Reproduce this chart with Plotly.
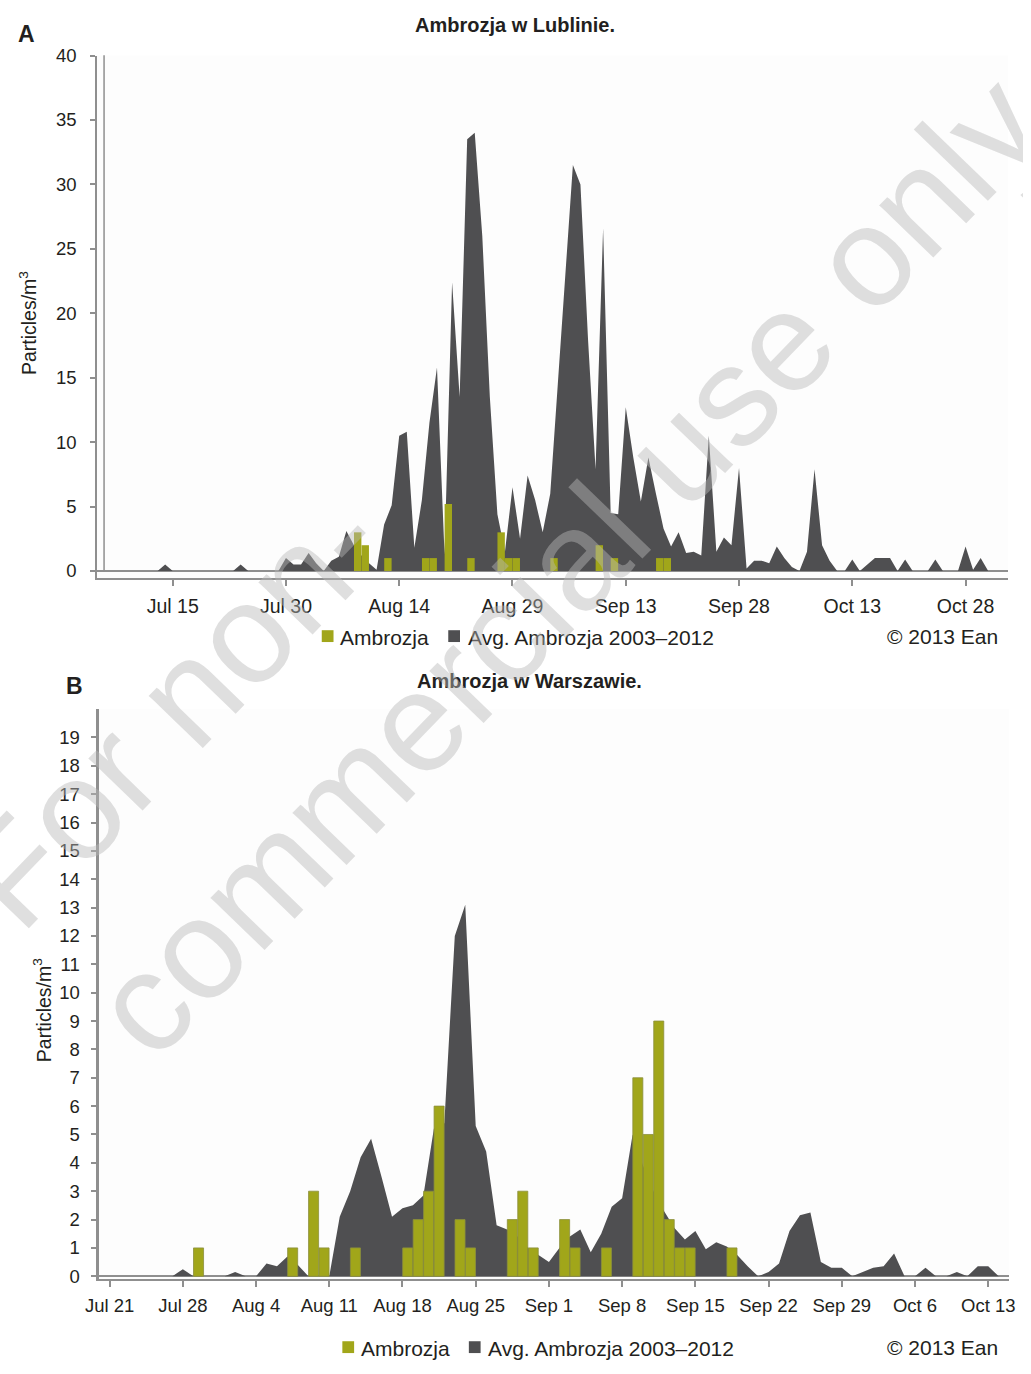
import plotly.graph_objects as go
import pandas as pd

FONT = "Liberation Sans, Arial, Helvetica, sans-serif"
GREEN = "#a1a61a"
DARK = "#4f4f51"
AXIS = "#8f8f8f"
TEXT = "#231f20"
W, H = 1031, 1374

# ---------------- Panel A: Lublin ----------------
a_avg_start = "2013-07-05"
a_avg_values = [
    0, 0, 0, 0, 0, 0, 0, 0, 0,
    0.5,
    0, 0, 0, 0, 0, 0, 0, 0, 0,
    0.5,
    0, 0, 0, 0, 0,
    1.0, 0.5, 0.5, 1.4, 0.6, 0, 0.8, 1.1, 3.1, 2.0,
    1.2, 0.6, 0.1, 3.6, 5.1, 10.5, 10.8, 1.8, 5.5, 11.5,
    15.8, 1.3, 22.4, 13.5, 33.5, 34.0, 26.0, 13.5, 4.4, 1.5,
    6.5, 2.5, 7.4, 5.5, 3.0, 6.0, 14.5, 23.0, 31.5, 30.0,
    18.0, 7.9, 26.6, 4.5, 4.4, 12.7, 8.8, 5.4, 8.8, 6.0,
    3.3, 1.9, 3.0, 1.4, 1.5, 1.2, 10.5, 1.5, 2.6, 2.0,
    8.0, 0.2, 0.8, 0.8, 0.6, 1.9, 1.0, 0.3, 0, 1.5,
    7.9, 2.0, 0.8, 0, 0, 0.9, 0, 0.5, 1.0, 1.0,
    1.0, 0, 0.9, 0, 0, 0, 0.9, 0, 0, 0,
    1.9, 0.1, 1.0, 0, 0, 0,
]
a_bar_dates = ["2013-08-08", "2013-08-09", "2013-08-12", "2013-08-17", "2013-08-18",
               "2013-08-20", "2013-08-23", "2013-08-27", "2013-08-28", "2013-08-29",
               "2013-09-03", "2013-09-09", "2013-09-11", "2013-09-17", "2013-09-18"]
a_bar_values = [3, 2, 1, 1, 1, 5.2, 1, 3, 1, 1, 1, 2, 1, 1, 1]
a_tick_dates = ["2013-07-15", "2013-07-30", "2013-08-14", "2013-08-29",
                "2013-09-13", "2013-09-28", "2013-10-13", "2013-10-28"]
a_tick_labels = ["Jul 15", "Jul 30", "Aug 14", "Aug 29", "Sep 13", "Sep 28", "Oct 13", "Oct 28"]
a_y_ticks = [0, 5, 10, 15, 20, 25, 30, 35, 40]

# ---------------- Panel B: Warszawa ----------------
b_avg_start = "2013-07-20"
b_avg_values = [
    0, 0, 0, 0, 0, 0, 0,
    0, 0.25, 0, 0, 0, 0, 0.15, 0, 0, 0.45,
    0.35, 0.7, 0.4, 0, 0, 0, 2.1, 3.0, 4.2, 4.85,
    3.5, 2.1, 2.4, 2.5, 2.85, 5.2, 5.4, 12.0, 13.1, 5.3,
    4.4, 1.8, 1.65, 1.4, 1.0, 0.75, 0.5, 1.0, 1.4, 1.65,
    0.85, 1.5, 2.45, 2.75, 5.0, 3.9, 3.0, 2.3, 1.7, 1.3,
    1.6, 0.95, 1.2, 1.05, 0.75, 0.35, 0, 0.15, 0.45, 1.6,
    2.15, 2.25, 0.5, 0.3, 0.3, 0, 0.15, 0.3, 0.35, 0.8,
    0, 0, 0.3, 0, 0, 0.15, 0, 0.35, 0.35, 0,
]
b_bar_dates = ["2013-07-29", "2013-08-07", "2013-08-09", "2013-08-10", "2013-08-13",
               "2013-08-18", "2013-08-19", "2013-08-20", "2013-08-21", "2013-08-23",
               "2013-08-24", "2013-08-28", "2013-08-29", "2013-08-30", "2013-09-02",
               "2013-09-03", "2013-09-06", "2013-09-09", "2013-09-10", "2013-09-11",
               "2013-09-12", "2013-09-13", "2013-09-14", "2013-09-18"]
b_bar_values = [1, 1, 3, 1, 1, 1, 2, 3, 6, 2, 1, 2, 3, 1, 2, 1, 1, 7, 5, 9, 2, 1, 1, 1]
b_tick_dates = ["2013-07-21", "2013-07-28", "2013-08-04", "2013-08-11", "2013-08-18",
                "2013-08-25", "2013-09-01", "2013-09-08", "2013-09-15", "2013-09-22",
                "2013-09-29", "2013-10-06", "2013-10-13"]
b_tick_labels = ["Jul 21", "Jul 28", "Aug 4", "Aug 11", "Aug 18", "Aug 25", "Sep 1",
                 "Sep 8", "Sep 15", "Sep 22", "Sep 29", "Oct 6", "Oct 13"]
b_y_ticks = list(range(0, 20))

series_names = ["Ambrozja", "Avg. Ambrozja 2003–2012"]
titles = ["Ambrozja w Lublinie.", "Ambrozja w Warszawie."]
y_title = "Particles/m<sup>3</sup>"
credit = "© 2013 Ean"
watermark = "For non-<br>commercial use only"


def px(x):
    return x / W


def py(y):
    return 1 - y / H


DAY_MS = pd.Timedelta(days=1).total_seconds() * 1000
HALF = pd.Timedelta(hours=12)

A_YRANGE = [-0.54, 40]
B_YRANGE = [-0.1, 20]

fig = go.Figure()

a_dates = pd.date_range(a_avg_start, periods=len(a_avg_values), freq="D")
b_dates = pd.date_range(b_avg_start, periods=len(b_avg_values), freq="D")

fig.add_trace(go.Scatter(x=a_dates, y=a_avg_values, mode="lines", fill="tozeroy",
                         line=dict(width=0, color=DARK), fillcolor=DARK,
                         name=series_names[1], xaxis="x", yaxis="y"))
fig.add_trace(go.Bar(x=pd.to_datetime(a_bar_dates) + HALF, y=a_bar_values,
                     width=DAY_MS * 0.98,
                     marker=dict(color=GREEN, line=dict(width=0)),
                     name=series_names[0], xaxis="x", yaxis="y3"))
fig.add_trace(go.Scatter(x=b_dates, y=b_avg_values, mode="lines", fill="tozeroy",
                         line=dict(width=0, color=DARK), fillcolor=DARK,
                         name=series_names[1], xaxis="x2", yaxis="y2"))
fig.add_trace(go.Bar(x=pd.to_datetime(b_bar_dates) + HALF, y=b_bar_values,
                     width=DAY_MS * 0.96,
                     marker=dict(color=GREEN, line=dict(width=0.8, color="#8c8f3e")),
                     name=series_names[0], xaxis="x2", yaxis="y4"))

common_x = dict(type="date", showgrid=False, zeroline=False, showline=True,
                linecolor=AXIS, linewidth=2, ticks="outside", ticklen=6,
                tickcolor=AXIS, tickwidth=1.5, color=TEXT)
common_y = dict(showgrid=False, zeroline=True, zerolinecolor=AXIS, zerolinewidth=2,
                showline=True, linecolor=AXIS, linewidth=2, ticks="outside",
                ticklen=5, tickcolor=AXIS, tickwidth=1.5, color=TEXT)

fig.update_layout(
    autosize=True,
    margin=dict(l=0, r=0, t=0, b=0),
    paper_bgcolor="white", plot_bgcolor="#fdfdfd",
    showlegend=False, barmode="overlay",
    font=dict(family=FONT, color=TEXT),
    xaxis=dict(common_x, domain=[px(93), px(1022)], anchor="y",
               range=["2013-07-05", "2013-11-02 15:30"],
               tickvals=a_tick_dates, ticktext=a_tick_labels,
               tickfont=dict(size=19.5), ticklabelstandoff=4),
    yaxis=dict(common_y, domain=[py(583), py(53.3)], anchor="x",
               range=A_YRANGE, tickvals=a_y_ticks,
               tickfont=dict(size=18.5), ticklabelstandoff=10),
    yaxis3=dict(overlaying="y", range=A_YRANGE, visible=False, anchor="x"),
    xaxis2=dict(common_x, domain=[px(95), px(1023)], anchor="y2",
                range=["2013-07-20", "2013-10-15"],
                tickvals=b_tick_dates, ticktext=b_tick_labels,
                tickfont=dict(size=18.5), ticklabelstandoff=3),
    yaxis2=dict(common_y, domain=[py(1294), py(716)], anchor="x2",
                range=B_YRANGE, tickvals=b_y_ticks, linewidth=2.5,
                tickfont=dict(size=18.5), ticklabelstandoff=8),
    yaxis4=dict(overlaying="y2", range=B_YRANGE, visible=False, anchor="x2"),
)

shapes = [
    # inner vertical rule of panel A
    dict(type="line", xref="paper", yref="paper", x0=px(100), x1=px(100),
         y0=py(577), y1=py(53), line=dict(color=AXIS, width=1.5)),
    # legend swatches
    dict(type="rect", xref="paper", yref="paper", x0=px(322), x1=px(334),
         y0=py(648), y1=py(636), fillcolor=GREEN, line=dict(width=0)),
    dict(type="rect", xref="paper", yref="paper", x0=px(451), x1=px(463),
         y0=py(648), y1=py(636), fillcolor=DARK, line=dict(width=0)),
    dict(type="rect", xref="paper", yref="paper", x0=px(343), x1=px(355),
         y0=py(1369), y1=py(1357), fillcolor=GREEN, line=dict(width=0)),
    dict(type="rect", xref="paper", yref="paper", x0=px(472), x1=px(484),
         y0=py(1369), y1=py(1357), fillcolor=DARK, line=dict(width=0)),
]


def ann(text, x, y, size, xanchor="center", yanchor="middle", angle=0, color=TEXT, **kw):
    return dict(text=text, x=px(x), y=py(y), xref="paper", yref="paper",
                xanchor=xanchor, yanchor=yanchor, showarrow=False, textangle=angle,
                font=dict(size=size, color=color, family=FONT), **kw)


annotations = [
    ann("<b>A</b>", 21, 31, 23),
    ann("<b>" + titles[0] + "</b>", 519, 22, 20),
    ann(y_title, 22, 325, 19.5, angle=-90),
    ann(series_names[0], 339, 643, 21, xanchor="left"),
    ann(series_names[1], 469, 643, 21, xanchor="left"),
    ann(credit, 1014, 642, 21, xanchor="right"),
    ann("<b>B</b>", 70, 693, 23),
    ann("<b>" + titles[1] + "</b>", 534, 687, 20),
    ann(y_title, 37, 1021, 19.5, angle=-90),
    ann(series_names[0], 360, 1364, 21, xanchor="left"),
    ann(series_names[1], 489, 1364, 21, xanchor="left"),
    ann(credit, 1014, 1363, 21, xanchor="right"),
    ann(watermark, 505, 505, 142, angle=-46, color="rgba(185,185,185,0.45)", align="left"),
]

fig.update_layout(shapes=shapes, annotations=annotations)
# The figure box is sized by the page div; the negative margin cancels the
# default body margin and overflow is clipped so the page is exactly W x H.
fig.write_html("out.html",
               default_width=f"{W}px; margin:-8px; overflow:hidden",
               default_height=f"{H}px")
